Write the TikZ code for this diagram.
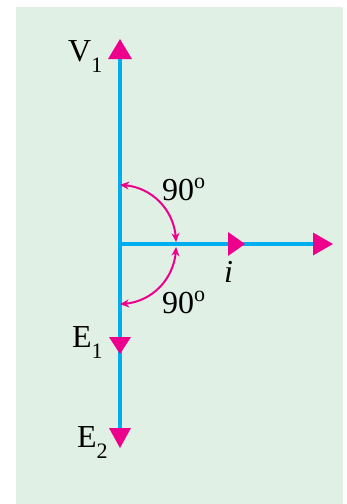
\documentclass[tikz,border=0pt]{standalone}
\usepackage{fontspec}
\setmainfont{Liberation Serif}
\usetikzlibrary{arrows.meta,bending}
\definecolor{bgc}{RGB}{225,240,229}
\definecolor{cyanv}{RGB}{0,174,239}
\definecolor{magv}{RGB}{236,0,140}
\newcommand\lbsub[1]{\lower11pt\hbox{\fontsize{22}{22}\selectfont #1}}
\newcommand\lbdeg{\raise12pt\hbox{\fontsize{22}{22}\selectfont o}}
\begin{document}
\begin{tikzpicture}[x=1pt,y=-1pt,
  vec/.style={draw=cyanv,line width=4.3pt},
  head/.style={fill=magv},
  arcv/.style={draw=magv,line width=2pt,{Stealth[length=9pt,width=8pt,bend]}-{Stealth[length=9pt,width=8pt,bend]}},
  lbl/.style={anchor=base west,inner sep=0pt,font=\fontsize{32}{32}\selectfont}]
\useasboundingbox (0,0) rectangle (347,504);
\fill[bgc] (16,7) rectangle (343,504);
% named points
\coordinate (O) at (120,244);
\coordinate (V1) at (120,39);
\coordinate (E1) at (120,354);
\coordinate (E2) at (120,448);
\coordinate (I1) at (245,244);
\coordinate (I2) at (333,244);
\coordinate (A1) at (176,242);
\coordinate (B1) at (176,247);
% phasor lines
\draw[vec,shorten <=10pt,shorten >=10pt] (V1) -- (E2);
\draw[vec,shorten >=10pt] (O) -- (I2);
% arrow heads
\fill[head] (V1) -- ++(-12,20) -- ++(24,0) -- cycle;
\fill[head] (E1) -- ++(-11,-17) -- ++(22,0) -- cycle;
\fill[head] (E2) -- ++(-11,-20) -- ++(22,0) -- cycle;
\fill[head] (I1) -- ++(-17,-12) -- ++(0,24) -- cycle;
\fill[head] (I2) -- ++(-20,-11.5) -- ++(0,23) -- cycle;
% angle arcs
\draw[arcv] (A1) arc[start angle=0,end angle=-90,x radius=56,y radius=57];
\draw[arcv] (B1) arc[start angle=0,end angle=90,x radius=56,y radius=57];
% labels
\node[lbl] (v1l) at (68,61) {V\lbsub{1}};
\node[lbl] (e1l) at (72,347) {E\lbsub{1}};
\node[lbl] (e2l) at (77,447) {E\lbsub{2}};
\node[lbl] (a1l) at (162,200) {90\lbdeg};
\node[lbl] (a2l) at (162,313) {90\lbdeg};
\node[lbl] (il) at (224,282) {\textit{i}};
\end{tikzpicture}
\end{document}
